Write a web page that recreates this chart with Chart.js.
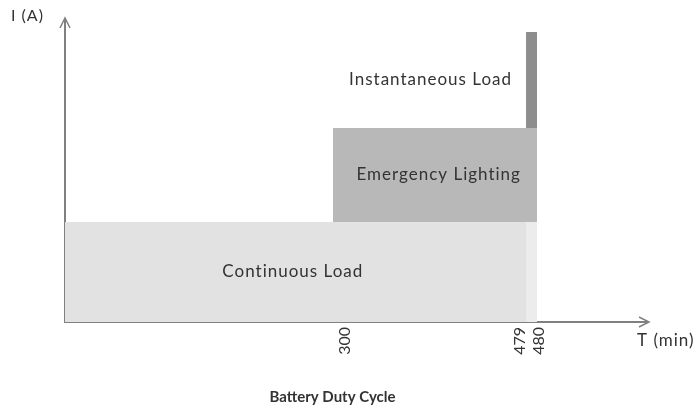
<!DOCTYPE html>
<html>
<head>
<meta charset="utf-8">
<script src="https://cdn.jsdelivr.net/npm/chart.js@4"></script>
<style>
  html, body { margin: 0; padding: 0; background: #fff; }
  #wrap { width: 695px; height: 410px; }
</style>
</head>
<body>
<div id="wrap"><canvas id="dutyChart"></canvas></div>
<script>
// load periods (minutes) and current levels (stacked, arbitrary units)
const loadNames = ["Continuous Load", "Emergency Lighting", "Instantaneous Load"];
const loadStart = [0, 300, 479];
const loadEnd = [479, 480, 480];
const loadBase = [0, 1, 1.94];
const loadTop = [1, 1.94, 2.9];
const loadColors = ["#e2e2e2", "#b8b8b8", "#8d8d8d"];
// continuous load during the last minute is drawn lighter
const lastMinute = { start: 479, end: 480, base: 0, top: 1 };
const tickValues = [300, 479, 480];

// the time axis is schematic: not drawn to scale
const warpFrom = [0, 300, 479, 480, 600];
const warpTo = [0, 276.3, 475.3, 486.6, 600];

function interp(v, a, b) {
  for (let i = 1; i < a.length; i++) {
    if (v <= a[i]) {
      const t = (v - a[i - 1]) / (a[i] - a[i - 1]);
      return b[i - 1] + t * (b[i] - b[i - 1]);
    }
  }
  return b[b.length - 1];
}

class WarpScale extends Chart.LinearScale {
  getPixelForValue(v) { return super.getPixelForValue(interp(v, warpFrom, warpTo)); }
  getValueForPixel(p) { return interp(super.getValueForPixel(p), warpTo, warpFrom); }
}
WarpScale.id = "warp";
WarpScale.defaults = Chart.LinearScale.defaults;
Chart.register(WarpScale);

const axisColor = "#808080";
const textColor = "#333333";
const font = "Lato, 'Open Sans', sans-serif";

const datasets = loadNames.map((name, i) => ({
  label: name,
  data: [{ x: loadStart[i], y: loadTop[i] }, { x: loadEnd[i], y: loadTop[i] }],
  backgroundColor: loadColors[i],
  borderWidth: 0,
  pointRadius: 0,
  fill: { value: loadBase[i] }
}));
datasets.push({
  label: "last minute",
  data: [{ x: lastMinute.start, y: lastMinute.top }, { x: lastMinute.end, y: lastMinute.top }],
  backgroundColor: "#ececec",
  borderWidth: 0,
  pointRadius: 0,
  fill: { value: lastMinute.base }
});

// text inside the areas, in data units
const areaLabels = [
  { text: "Continuous Load", x: 255, y: 0.5, align: "center" },
  { text: "Emergency Lighting", x: 398, y: 1.47, align: "center" },
  { text: "Instantaneous Load", x: 466, y: 2.42, align: "right" }
];
// tick labels in the original sit a little off their marks
const tickNudge = { 300: 12, 479: -6, 480: 2 };

const decorations = {
  id: "decorations",
  afterDatasetsDraw(chart) {
    const { ctx, chartArea, scales } = chart;
    ctx.save();
    // axis arrow heads
    ctx.strokeStyle = axisColor;
    ctx.lineWidth = 1.5;
    ctx.beginPath();
    ctx.moveTo(chartArea.left - 5, chartArea.top + 8);
    ctx.lineTo(chartArea.left, chartArea.top - 2);
    ctx.lineTo(chartArea.left + 5, chartArea.top + 8);
    ctx.stroke();
    ctx.beginPath();
    ctx.moveTo(chartArea.right - 8, chartArea.bottom - 5);
    ctx.lineTo(chartArea.right + 2, chartArea.bottom);
    ctx.lineTo(chartArea.right - 8, chartArea.bottom + 5);
    ctx.stroke();

    ctx.fillStyle = textColor;
    ctx.font = "17px " + font;
    ctx.letterSpacing = "1px";
    ctx.textBaseline = "middle";
    areaLabels.forEach(l => {
      ctx.textAlign = l.align;
      ctx.fillText(l.text, scales.x.getPixelForValue(l.x), scales.y.getPixelForValue(l.y));
    });

    // rotated time tick labels
    ctx.font = "16px " + font;
    ctx.letterSpacing = "0px";
    ctx.textAlign = "right";
    tickValues.forEach(v => {
      ctx.save();
      ctx.translate(scales.x.getPixelForValue(v) + tickNudge[v], chartArea.bottom + 5);
      ctx.rotate(-Math.PI / 2);
      ctx.fillText(String(v), 0, 0);
      ctx.restore();
    });

    ctx.textAlign = "left";
    ctx.letterSpacing = "1px";
    ctx.fillText("I (A)", 11, 16);
    ctx.font = "17px " + font;
    ctx.fillText("T (min)", chartArea.right - 10, chartArea.bottom + 19);
    ctx.restore();
  }
};

new Chart(document.getElementById("dutyChart"), {
  type: "line",
  data: { datasets },
  plugins: [decorations],
  options: {
    responsive: true,
    maintainAspectRatio: false,
    animation: false,
    layout: { padding: { left: 18, top: 20, right: 48, bottom: 0 } },
    plugins: {
      legend: { display: false },
      tooltip: { enabled: false },
      title: {
        display: true,
        position: "bottom",
        text: "Battery Duty Cycle",
        color: textColor,
        font: { family: font, size: 15, weight: "bold" },
        padding: { top: 9, bottom: 4 }
      }
    },
    scales: {
      x: {
        type: "warp",
        min: 0,
        max: 600,
        afterBuildTicks: s => { s.ticks = tickValues.map(v => ({ value: v })); },
        afterFit: s => { s.height = 57; },
        grid: { display: false, drawTicks: false },
        border: { display: true, color: axisColor, width: 2 },
        ticks: { display: false }
      },
      y: {
        min: 0,
        max: 3.02,
        afterFit: s => { s.width = 47; },
        grid: { display: false, drawTicks: false },
        border: { display: true, color: axisColor, width: 2 },
        ticks: { display: false }
      }
    }
  }
});
</script>
</body>
</html>
